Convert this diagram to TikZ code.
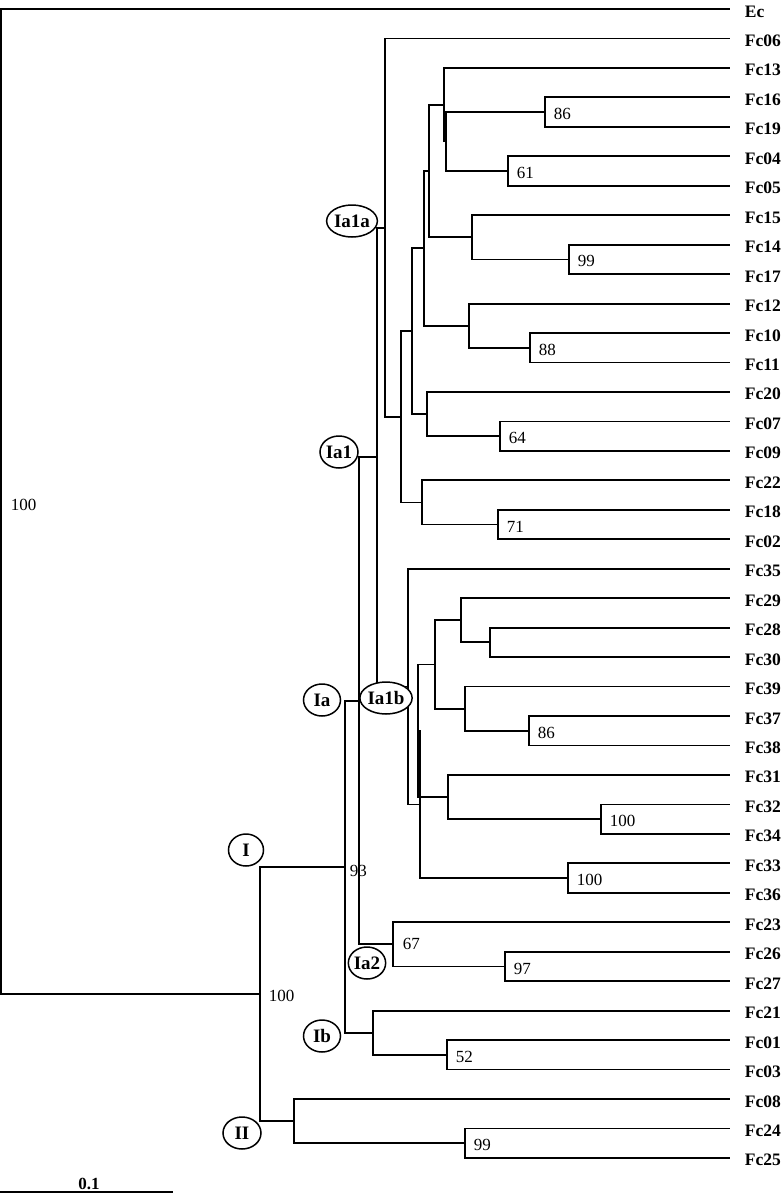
\documentclass[tikz,border=0pt]{standalone}
\usepackage{fontspec}
\setmainfont{Liberation Serif}
\usetikzlibrary{shapes.geometric}
\begin{document}
\begin{tikzpicture}[x=1pt,y=-1pt,line width=1.8pt,
  leaf/.style={anchor=base west,inner sep=0pt,font=\bfseries\fontsize{17.5}{17.5}\selectfont},
  boot/.style={anchor=west,inner sep=0pt,font=\fontsize{17}{17}\selectfont},
  clade/.style={ellipse,draw,fill=white,line width=1.5pt,inner sep=0pt,minimum height=32pt,minimum width=37pt,font=\bfseries\fontsize{19}{19}\selectfont},
  br/.style={draw,line width=1.8pt}]
\useasboundingbox (0,0) rectangle (782,1194);
% leaves
\foreach \n [count=\i from 0] in {Ec,Fc06,Fc13,Fc16,Fc19,Fc04,Fc05,Fc15,Fc14,Fc17,Fc12,Fc10,Fc11,Fc20,Fc07,Fc09,Fc22,Fc18,Fc02,Fc35,Fc29,Fc28,Fc30,Fc39,Fc37,Fc38,Fc31,Fc32,Fc34,Fc33,Fc36,Fc23,Fc26,Fc27,Fc21,Fc01,Fc03,Fc08,Fc24,Fc25}{
  \coordinate (t\n) at (730,{9+29.46*\i});
  \node[leaf] (l\n) at (744,{17+29.46*\i}) {\n};
}
% internal nodes
\coordinate (n1619) at (545,112.11);
\coordinate (n0405) at (508,171.03);
\coordinate (nA) at (446,141.57);
\coordinate (nB) at (444,104.745);
\coordinate (n1417) at (569,259.41);
\coordinate (nC) at (472,237.315);
\coordinate (nD) at (429,171.03);
\coordinate (n1011) at (530,347.79);
\coordinate (nE) at (469,325.695);
\coordinate (nF) at (424,248.36);
\coordinate (n0709) at (500,436.17);
\coordinate (nG) at (427,414.075);
\coordinate (nH) at (412,331.22);
\coordinate (n1802) at (498,524.55);
\coordinate (nJ) at (422,502.455);
\coordinate (nK) at (401,416.84);
\coordinate (nIa1a) at (385,227.65);
\coordinate (n2830) at (490,642.39);
\coordinate (nL) at (461,620.3);
\coordinate (n3738) at (529,730.77);
\coordinate (nM) at (465,708.675);
\coordinate (nN) at (435,664.49);
\coordinate (n3234) at (601,819.15);
\coordinate (nO) at (448,797.06);
\coordinate (nP) at (418,730.77);
\coordinate (n3336) at (568,878.07);
\coordinate (nQ) at (420,804.42);
\coordinate (nIa1b) at (408,686.58);
\coordinate (nIa1) at (377,457.1);
\coordinate (n2627) at (505,966.45);
\coordinate (nIa2) at (393,944.36);
\coordinate (nIa) at (359,700.73);
\coordinate (n0103) at (447,1054.83);
\coordinate (nIb) at (373,1032.74);
\coordinate (nI) at (345,866.74);
\coordinate (n2425) at (465,1143.21);
\coordinate (nII) at (294,1121.1);
\coordinate (nIII) at (260,993.9);
\coordinate (root) at (1,501.5);
% branches
\foreach \p/\a/\b in {
  n1619/tFc16/tFc19, n0405/tFc04/tFc05, nA/n1619/n0405, nB/tFc13/nA,
  n1417/tFc14/tFc17, nC/tFc15/n1417, nD/nB/nC,
  n1011/tFc10/tFc11, nE/tFc12/n1011, nF/nD/nE,
  n0709/tFc07/tFc09, nG/tFc20/n0709, nH/nF/nG,
  n1802/tFc18/tFc02, nJ/tFc22/n1802, nK/nH/nJ, nIa1a/tFc06/nK,
  n2830/tFc28/tFc30, nL/tFc29/n2830, n3738/tFc37/tFc38, nM/tFc39/n3738, nN/nL/nM,
  n3234/tFc32/tFc34, nO/tFc31/n3234, nP/nN/nO, n3336/tFc33/tFc36, nQ/nP/n3336,
  nIa1b/tFc35/nQ, nIa1/nIa1a/nIa1b,
  n2627/tFc26/tFc27, nIa2/tFc23/n2627, nIa/nIa1/nIa2,
  n0103/tFc01/tFc03, nIb/tFc21/n0103, nI/nIa/nIb,
  n2425/tFc24/tFc25, nII/tFc08/n2425, nIII/nI/nII, root/tEc/nIII}{
  \path[br] (\p) |- (\a);
  \path[br] (\p) |- (\b);
}
% bootstrap values
\foreach \c/\v in {n1619/86,n0405/61,n1417/99,n1011/88,n0709/64,n1802/71,n3738/86,n3234/100,n3336/100,n2627/97,n0103/52,n2425/99}{
  \node[boot] (b\c) at ([xshift=8pt,yshift=-2pt]\c) {\v};
}
\node[boot] (bnIa2) at ([xshift=9pt,yshift=0pt]nIa2) {67};
\node[boot] (bnI) at ([xshift=4pt,yshift=-4pt]nI) {93};
\node[boot] (bnIII) at ([xshift=8pt,yshift=-2pt]nIII) {100};
\node[boot] (broot) at ([xshift=9pt,yshift=-3.5pt]root) {100};
% clade labels
\node[clade,minimum width=35pt] (cI) at (246,850) {I};
\node[clade,minimum width=38pt] (cII) at (242,1133) {II};
\node[clade] (cIa) at (322,700) {Ia};
\node[clade,minimum width=38pt] (cIa1) at (339,452) {Ia1};
\node[clade] (cIa1a) at (352,221) {Ia1a};
\node[clade] (cIa1b) at (386,698) {Ia1b};
\node[clade] (cIa2) at (367,963) {Ia2};
\node[clade] (cIb) at (322,1036) {Ib};
% scale bar
\coordinate (sbL) at (0,1192);
\coordinate (sbR) at (173,1192);
\draw[line width=1.8pt] (sbL) -- (sbR);
\node[anchor=base,inner sep=0pt,font=\bfseries\fontsize{17}{17}\selectfont] (sbT) at (89,1189) {0.1};
\end{tikzpicture}
\end{document}
